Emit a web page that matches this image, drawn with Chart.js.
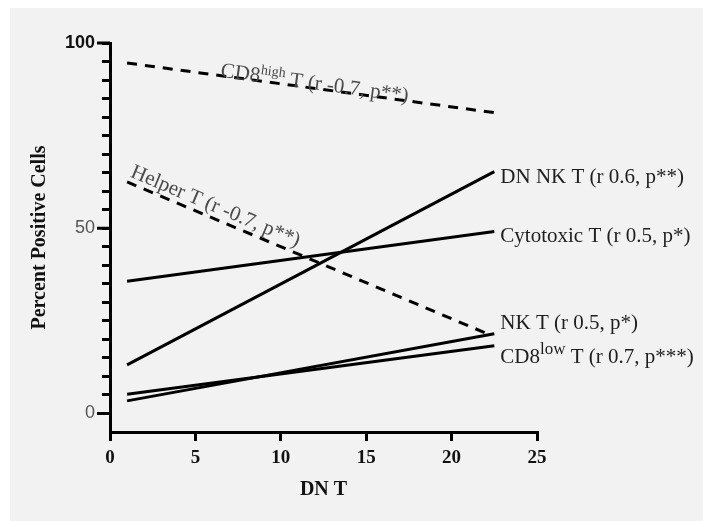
<!DOCTYPE html>
<html>
<head>
<meta charset="utf-8">
<script src="https://cdn.jsdelivr.net/npm/chart.js@4.4.1/dist/chart.umd.min.js"></script>
<style>
  html, body { margin: 0; padding: 0; background: #ffffff; }
  canvas { display: block; }
</style>
</head>
<body>
<canvas id="chart" width="703" height="521"></canvas>
<script>
// Regression lines of each subset against DN T (start and end of each fitted line)
const seriesNames = ['CD8high T', 'Helper T', 'DN NK T', 'Cytotoxic T', 'NK T', 'CD8low T'];
const xStart = [1, 1, 1, 1, 1, 1];
const xEnd   = [22.5, 22.2, 22.5, 22.5, 22.5, 22.5];
const yStart = [94.6, 62.5, 13.1, 35.7, 3.4, 5.2];
const yEnd   = [81.2, 21.3, 65.3, 49.1, 21.5, 18.3];
const dashed = [true, true, false, false, false, false];

// Line annotations: main text, superscript, trailing text
const labelPre  = ['CD8', 'Helper T (r -0.7, p**)', 'DN NK T (r 0.6, p**)', 'Cytotoxic T (r 0.5, p*)', 'NK T (r 0.5, p*)', 'CD8'];
const labelSup  = ['high', '', '', '', '', 'low'];
const labelPost = [' T (r -0.7, p**)', '', '', '', '', ' T (r 0.7, p***)'];

// Axis ticks
const xTickValues = [0, 5, 10, 15, 20, 25];
const yTickLabels = [0, 50, 100];

const SERIF = '"Liberation Serif", "Times New Roman", serif';
const SANS = '"Liberation Sans", Arial, sans-serif';

const datasets = seriesNames.map((name, i) => ({
  label: name,
  data: [{ x: xStart[i], y: yStart[i] }, { x: xEnd[i], y: yEnd[i] }],
  borderColor: '#000000',
  borderWidth: 3,
  borderDash: dashed[i] ? [10, 8] : [],
  pointRadius: 0,
  fill: false,
  tension: 0
}));

// Page background: grey panel with a thin white margin at top/left
const panelBg = {
  id: 'panelBg',
  beforeDraw(chart) {
    const ctx = chart.ctx;
    ctx.save();
    ctx.fillStyle = '#ffffff';
    ctx.fillRect(0, 0, chart.width, chart.height);
    ctx.fillStyle = '#f2f2f2';
    ctx.fillRect(10, 8, chart.width - 10, chart.height - 8);
    ctx.restore();
  }
};

// Longer tick marks at the labelled y values
const majorTicks = {
  id: 'majorTicks',
  afterDraw(chart) {
    const ctx = chart.ctx;
    const ys = chart.scales.y;
    const left = chart.chartArea.left;
    ctx.save();
    ctx.strokeStyle = '#000';
    ctx.lineWidth = 3;
    yTickLabels.forEach(v => {
      const py = ys.getPixelForValue(v);
      ctx.beginPath();
      ctx.moveTo(left - 13, py);
      ctx.lineTo(left, py);
      ctx.stroke();
    });
    ctx.restore();
  }
};

// Text beside or along each regression line
const lineNotes = {
  id: 'lineNotes',
  afterDatasetsDraw(chart, args, opts) {
    const ctx = chart.ctx;
    const xs = chart.scales.x;
    opts.notes.forEach(note => {
      const i = note.dataset;
      const meta = chart.getDatasetMeta(i);
      const p0 = meta.data[0], p1 = meta.data[1];
      ctx.save();
      ctx.fillStyle = note.color;
      if (note.along) {
        const ang = Math.atan2(p1.y - p0.y, p1.x - p0.x);
        const px = xs.getPixelForValue(note.at);
        const t = (px - p0.x) / (p1.x - p0.x);
        const py = p0.y + t * (p1.y - p0.y);
        ctx.translate(px, py);
        ctx.rotate(ang);
        ctx.translate(0, note.offset);
        ctx.textBaseline = 'alphabetic';
      } else {
        ctx.translate(p1.x + note.dx, p1.y + note.dy);
        ctx.textBaseline = 'middle';
      }
      ctx.textAlign = 'left';
      let x = 0;
      ctx.font = `21px ${SERIF}`;
      ctx.fillText(labelPre[i], x, 0);
      x += ctx.measureText(labelPre[i]).width;
      if (labelSup[i]) {
        ctx.font = `${note.supSize}px ${SERIF}`;
        ctx.fillText(labelSup[i], x, -8);
        x += ctx.measureText(labelSup[i]).width;
      }
      if (labelPost[i]) {
        ctx.font = `21px ${SERIF}`;
        ctx.fillText(labelPost[i], x, 0);
      }
      ctx.restore();
    });
  }
};

new Chart(document.getElementById('chart'), {
  type: 'line',
  data: { datasets },
  plugins: [panelBg, majorTicks, lineNotes],
  options: {
    responsive: false,
    animation: false,
    devicePixelRatio: 1,
    layout: { padding: { top: 43, right: 166, left: 0, bottom: 0 } },
    plugins: {
      legend: { display: false },
      tooltip: { enabled: false },
      lineNotes: {
        notes: [
          { dataset: 0, along: true, at: 6.45, offset: 1, color: '#4a4a4a', supSize: 14 },
          { dataset: 1, along: true, at: 1.0, offset: -6, color: '#4a4a4a' },
          { dataset: 2, dx: 6, dy: 6, color: '#1e1e1e' },
          { dataset: 3, dx: 6, dy: 5, color: '#1e1e1e' },
          { dataset: 4, dx: 6, dy: -10, color: '#1e1e1e' },
          { dataset: 5, dx: 6, dy: 12, color: '#1e1e1e', supSize: 17 }
        ]
      }
    },
    scales: {
      x: {
        type: 'linear',
        min: 0,
        max: 25,
        afterFit(s) { s.height = 89; },
        afterBuildTicks(s) { s.ticks = xTickValues.map(v => ({ value: v })); },
        ticks: {
          font: { family: SERIF, size: 19, weight: 'bold' },
          color: '#111111',
          padding: 6
        },
        grid: {
          drawOnChartArea: false,
          color: '#000000',
          lineWidth: 3,
          tickLength: 9
        },
        border: { display: true, color: '#000000', width: 3 },
        title: {
          display: true,
          text: 'DN T',
          font: { family: SERIF, size: 20, weight: 'bold' },
          color: '#111111',
          padding: { top: 0, bottom: 19 }
        }
      },
      y: {
        type: 'linear',
        min: -5,
        max: 100,
        afterFit(s) { s.width = 110; },
        ticks: {
          stepSize: 5,
          autoSkip: false,
          callback: v => (yTickLabels.includes(v) ? String(v) : ''),
          font: c => ({ family: SANS, size: 18, weight: c.tick && c.tick.value === 100 ? 'bold' : 'normal' }),
          color: c => (c.tick && c.tick.value === 100 ? '#111111' : '#555555'),
          padding: 7
        },
        grid: {
          drawOnChartArea: false,
          color: c => (c.tick && c.tick.value < 0 ? 'rgba(0,0,0,0)' : '#000000'),
          lineWidth: 3,
          tickLength: 8
        },
        border: { display: true, color: '#000000', width: 3 },
        title: {
          display: true,
          text: 'Percent Positive Cells',
          font: { family: SERIF, size: 20, weight: 'bold' },
          color: '#111111',
          padding: { top: 28, bottom: 0 }
        }
      }
    }
  }
});
</script>
</body>
</html>
